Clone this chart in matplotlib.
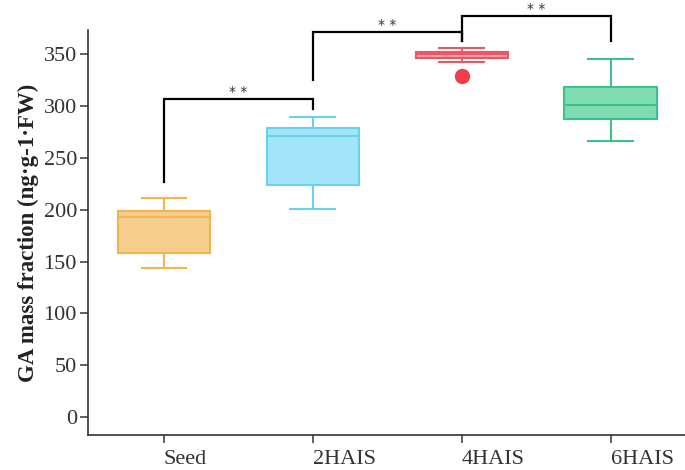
import matplotlib
matplotlib.use("Agg")
from matplotlib import pyplot as plt

# data
groups = ["Seed", "2HAIS", "4HAIS", "6HAIS"]
whislo = [143.5, 200.5, 342.5, 266.5]
q1 = [158.5, 224.0, 347.0, 288.0]
med = [193.0, 271.0, 350.0, 301.5]
q3 = [199.0, 278.5, 352.5, 319.0]
whishi = [211.0, 289.5, 356.5, 346.0]
fliers = [[], [], [329.0], []]

fills = ["#F5CE8E", "#A4E4F9", "#F7A3AA", "#80DCB2"]
edges = ["#F2B651", "#66D1F2", "#EF5563", "#3DC38A"]

# significance brackets: (left group, right group, bar height, left leg, right leg)
brackets = [
    (1, 2, 306.5, 226.5, 297.0),
    (2, 3, 371.5, 325.0, 363.0),
    (3, 4, 387.0, 363.0, 363.0),
]
sig_label = "* *"

plt.rcParams["font.family"] = ["Liberation Serif", "DejaVu Serif"]

fig = plt.figure(figsize=(6.85, 4.70), dpi=100)
ax = fig.add_axes([0.1285, 0.0745, 0.8715, 0.8615])

stats = []
for i, g in enumerate(groups):
    stats.append({"label": g, "whislo": whislo[i], "q1": q1[i], "med": med[i],
                  "q3": q3[i], "whishi": whishi[i], "fliers": fliers[i]})

pos = list(range(1, len(groups) + 1))
bp = ax.bxp(stats, positions=pos, widths=0.62, patch_artist=True, showfliers=True)
for i in range(len(groups)):
    bp["boxes"][i].set_facecolor(fills[i])
    bp["boxes"][i].set_edgecolor(edges[i])
    bp["boxes"][i].set_linewidth(1.5)
    bp["medians"][i].set_color(edges[i])
    bp["medians"][i].set_linewidth(1.5)
    for k in (2 * i, 2 * i + 1):
        bp["whiskers"][k].set_color(edges[i])
        bp["whiskers"][k].set_linewidth(1.5)
        bp["caps"][k].set_color(edges[i])
        bp["caps"][k].set_linewidth(1.5)
        x0 = pos[i]
        bp["caps"][k].set_xdata([x0 - 0.15, x0 + 0.15])
    bp["fliers"][i].set_marker("o")
    bp["fliers"][i].set_markerfacecolor("#EE3E4C")
    bp["fliers"][i].set_markeredgecolor("#EE3E4C")
    bp["fliers"][i].set_markersize(10)

for a, b, h, l1, l2 in brackets:
    ax.plot([a, a, b, b], [l1, h, h, l2], color="black", lw=1.6,
            clip_on=False, solid_joinstyle="miter")
    ax.text((a + b) / 2, h + 3, sig_label, ha="center", va="baseline",
            fontsize=10, color="#333333", clip_on=False,
            family=["DejaVu Sans"])

ax.set_xlim(0.49, 4.5)
ax.set_ylim(-17.5, 373.5)
ax.set_yticks([0, 50, 100, 150, 200, 250, 300, 350])
ax.set_xticks(pos)
ax.set_xticklabels(groups, ha="left")
ax.tick_params(axis="both", labelsize=16, length=6, width=1.2, color="#444444",
               labelcolor="#333333")
ax.tick_params(axis="x", pad=5)
ax.tick_params(axis="y", pad=2)

ax.spines["top"].set_visible(False)
ax.spines["right"].set_visible(False)
for s in ("left", "bottom"):
    ax.spines[s].set_linewidth(1.2)
    ax.spines[s].set_color("#333333")

ax.set_ylabel("GA mass fraction (ng·g-1·FW)", fontsize=16.5, fontweight="bold",
              labelpad=3, color="#222222")

plt.savefig("out.png", dpi=100)
